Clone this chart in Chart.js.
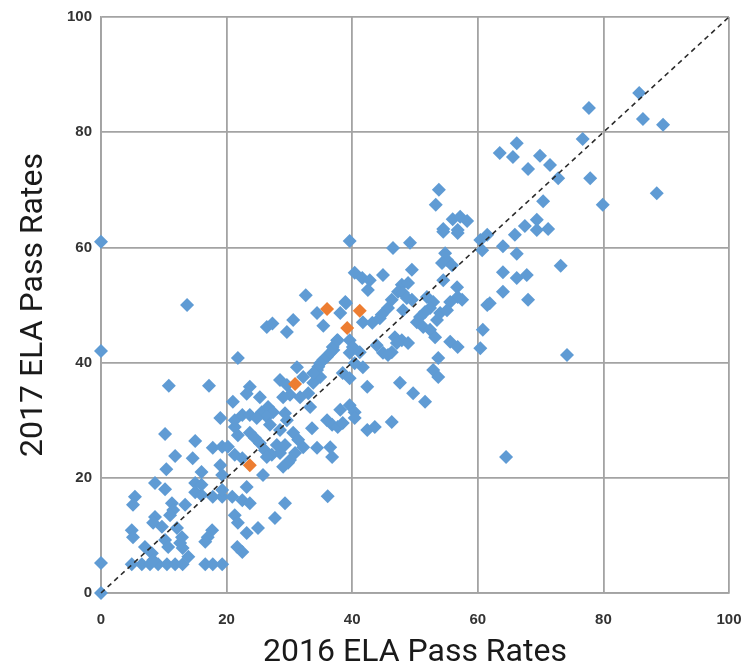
<!DOCTYPE html>
<html>
<head>
<meta charset="utf-8">
<title>ELA Pass Rates 2016 vs 2017</title>
<script src="https://cdn.jsdelivr.net/npm/chart.js@4/dist/chart.umd.min.js"></script>
<style>
  html, body { margin: 0; padding: 0; background: #ffffff; }
  #wrap { width: 747px; height: 669px; }
</style>
</head>
<body>
<div id="wrap"><canvas id="chart" width="747" height="669"></canvas></div>
<script>
// School pass rates: 2016 (x) against 2017 (y), in percent
const schools2016 = [
  0, 0, 0, 0, 4.9, 6.5, 7.8, 9.1, 10.5, 11.8, 13, 16.6, 17.8, 19.3,
  7, 8.1, 8.3, 10.2, 10.7, 13.9, 13, 12.1, 12.9, 12.6, 17.7, 17, 16.6,
  4.9, 5.1, 8.6, 8.3, 9.7, 5.4, 5.1, 11.3, 11.5, 11, 13.4, 15, 16, 17.8, 19.3,
  8.6, 10.2, 10.4, 16, 19, 19.3, 11.8, 14.6, 17.8, 19.3, 20.2, 15, 10.2, 19,
  15, 16, 19.3, 21.3, 21.8, 23.7, 24.5, 21.3, 22.5, 23.7, 25.6, 26.6, 29.3,
  25.3, 26.1, 28, 27.2, 21.3, 22.5, 25.8, 29.3, 28.5, 29.8, 29, 23.2,
  20.9, 22.5, 23.7, 21.3, 21.8, 21.7, 22.5, 23.2, 25, 27.7, 29.3, 36.1,
  10.8, 17.2, 21, 13.7,
  32.6, 34.4, 35.4, 30.6, 26.4, 27.3, 29.6, 21.8, 37.6, 37, 36, 31.2, 28.5, 29.6,
  23.7, 34.4, 34.9, 33.8,
  39.6, 46.5, 49.2, 54.5, 56.8, 60.4, 61.5, 60.7, 54.8, 55.1, 54.3, 55.9,
  40.4, 41.6, 42.8, 42.5, 44.9, 49.5, 47.9, 48.9, 47.3, 51.9, 52.9, 52.4, 51.6,
  56.7, 56.8, 55.6, 57.5, 61.5, 46.3, 45.7, 49.5, 48.1, 38.9, 38.1,
  41.7, 43.2, 44.4, 50.3, 51.3, 52.4, 53.5, 46.8, 47.9, 48.9, 53.2, 55.6, 56.8,
  60.8, 60.4, 39.6, 40.1, 39.6, 43.9, 44.9, 46.3, 36.9, 37.7, 41.7, 40.4,
  53.7, 52.9, 53.7, 47.6, 42.4, 38.5, 39.6, 39, 44.7, 48.1, 48.7, 54, 55.1,
  41.2, 36.5, 35.4, 34.6, 33.8, 45.7, 47.1, 49.7, 51.6, 46.3, 42.4, 43.6,
  39.6, 40.4, 40.4, 38.1, 36, 36.8, 37.7, 38.5, 33.6, 34.4, 36.5, 36.8,
  30.1, 29, 31.7, 33, 33.3, 32.2, 34.9, 27.4, 26.4, 26.9, 29.6, 28.5, 30.6,
  31.4, 32.2, 30.9, 30.1, 26.4, 23.2, 25.3, 24.8,
  66.2, 63.5, 65.6, 69.9, 71.5, 72.8, 68, 76.7, 77.9, 79.9, 53.8, 53.3,
  56, 57.2, 58.3, 56.8, 54.5, 65.9, 64, 66.2, 67.5, 69.4, 69.4, 71.2, 70.4,
  73.2, 64, 66.2, 67.8, 64, 68, 61.9, 74.2, 64.5,
  85.7, 86.3, 89.5, 77.7, 88.5, 50.8, 54.5
];
const schools2017 = [
  0, 5.2, 42, 61, 5, 5, 5, 5, 5, 5, 5, 5, 5, 5,
  8, 6.9, 5.7, 9.2, 8, 6.3, 7.8, 11.3, 9.7, 8.7, 10.9, 9.7, 8.9,
  10.9, 9.7, 13.2, 12.2, 11.5, 16.7, 15.3, 15.6, 14.4, 13.5, 15.3, 17.5, 17, 16.7, 16.7,
  19.1, 18, 21.5, 21, 22.2, 20.5, 23.8, 23.4, 25.2, 25.4, 25.4, 26.4, 27.6, 30.4,
  19.1, 18.8, 17.9, 28.8, 27.4, 27.8, 26.9, 30, 30.9, 30.9, 31.4, 32.3, 31.2,
  26, 24.8, 25.7, 24, 24, 23.4, 20.5, 25.7, 24.3, 22.6, 21.9, 18.4,
  16.7, 16.1, 15.6, 13.5, 12.2, 8, 7.1, 10.4, 11.3, 13, 15.6, 16.8,
  36, 36, 33.2, 50,
  51.7, 48.6, 46.4, 47.4, 46.2, 46.8, 45.3, 40.8, 43.9, 42.2, 41, 39.2, 37, 36.1,
  35.8, 38.7, 37.5, 36.5,
  61.1, 59.9, 60.8, 62.7, 62.5, 61.3, 62.2, 59.5, 59, 57.8, 57.3, 56.9,
  55.6, 54.7, 54.3, 52.6, 55.2, 56.1, 53.5, 53.8, 52.3, 51.4, 50.5, 49.5, 48.8,
  53.1, 51.4, 50.5, 50.9, 50, 50.9, 49.5, 50.9, 49.1, 50.5, 48.6,
  47, 46.9, 47.7, 47, 46.2, 45.7, 47.4, 44.4, 43.9, 43.4, 44.4, 43.6, 42.7,
  45.7, 42.5, 43.9, 42.7, 41.7, 43, 41.7, 41.8, 42.7, 43.9, 39.2, 39.9,
  40.8, 38.7, 37.5, 36.5, 35.8, 38.2, 37.3, 50.3, 48.3, 52.1, 51.2, 48.6, 49.1,
  41.8, 41.7, 40.5, 39.3, 38.2, 41.3, 43.4, 34.7, 33.2, 29.7, 28.3, 28.8,
  32.6, 31.4, 30.4, 31.8, 30, 29.2, 28.8, 29.5, 28.6, 25.2, 25.3, 23.6,
  34.4, 34, 34, 34.7, 32.3, 37.5, 39.9, 31.4, 30.6, 29.2, 30, 28.3, 27.8,
  26.6, 25.3, 24.3, 23.1, 23.6, 34.6, 34, 30.4,
  78.1, 76.4, 75.7, 75.9, 74.3, 72, 73.6, 78.8, 72, 67.4, 70, 67.4,
  64.9, 65.3, 64.6, 63, 63.2, 62.2, 60.2, 58.9, 63.7, 64.8, 63, 63.2, 68,
  56.8, 55.7, 54.7, 55.2, 52.3, 50.9, 50.3, 41.3, 23.6,
  86.8, 82.3, 81.3, 84.2, 69.4, 47.9, 54.3
];

// Highlighted schools
const highlight2016 = [23.7, 30.9, 36, 39.2, 41.2];
const highlight2017 = [22.2, 36.3, 49.3, 46, 49];

// Reference line y = x
const parityLine = [0, 100];

// Axis ticks, shared by both axes
const tickValues = [0, 20, 40, 60, 80, 100];

const toPoints = (xs, ys) => xs.map((x, i) => ({ x: x, y: ys[i] }));

const gridColor = '#a3a3a3';
const tickFont = { family: 'Liberation Sans', size: 15, weight: 'bold' };
const titleFont = { family: 'Roboto', size: 32, weight: '400', lineHeight: 1 };

function fixedTicks(scale) {
  scale.ticks = tickValues.map(v => ({ value: v }));
}

new Chart(document.getElementById('chart'), {
  type: 'scatter',
  data: {
    datasets: [
      {
        label: 'y = x',
        type: 'line',
        data: toPoints(parityLine, parityLine),
        borderColor: '#2b2b2b',
        borderWidth: 1.6,
        borderDash: [5, 4],
        pointRadius: 0,
        fill: false,
        order: 0,
        clip: false
      },
      {
        label: 'Highlighted',
        data: toPoints(highlight2016, highlight2017),
        pointStyle: 'rectRot',
        pointRadius: 7,
        pointHoverRadius: 7,
        backgroundColor: '#ED7D31',
        borderWidth: 0,
        order: 1,
        clip: false
      },
      {
        label: 'Schools',
        data: toPoints(schools2016, schools2017),
        pointStyle: 'rectRot',
        pointRadius: 7,
        pointHoverRadius: 7,
        backgroundColor: '#5f9bd4',
        borderWidth: 0,
        order: 2,
        clip: false
      }
    ]
  },
  options: {
    responsive: false,
    animation: false,
    events: [],
    layout: { padding: { top: 17, right: 18, bottom: 0, left: 0 } },
    plugins: {
      legend: { display: false },
      tooltip: { enabled: false }
    },
    scales: {
      x: {
        type: 'linear',
        min: 0,
        max: 100,
        afterBuildTicks: fixedTicks,
        afterFit: s => { s.height = 76; },
        grid: { color: gridColor, lineWidth: 1.8, drawTicks: true, tickLength: 13, tickColor: 'rgba(0,0,0,0)' },
        border: { display: true, color: gridColor, width: 1.8 },
        ticks: { font: tickFont, color: '#333333', padding: 5, maxRotation: 0 },
        title: {
          display: true,
          text: '2016 ELA Pass Rates',
          font: titleFont,
          color: '#1a1a1a',
          padding: { top: 0, bottom: 0 }
        }
      },
      y: {
        type: 'linear',
        min: 0,
        max: 100,
        afterBuildTicks: fixedTicks,
        afterFit: s => { s.width = 101; },
        grid: { color: gridColor, lineWidth: 1.8, drawTicks: true, tickLength: 9, tickColor: 'rgba(0,0,0,0)' },
        border: { display: true, color: gridColor, width: 1.8 },
        ticks: { font: tickFont, color: '#333333', padding: 0 },
        title: {
          display: true,
          text: '2017 ELA Pass Rates',
          font: titleFont,
          color: '#1a1a1a',
          padding: { top: 18, bottom: 0 }
        }
      }
    }
  }
});
</script>
</body>
</html>
